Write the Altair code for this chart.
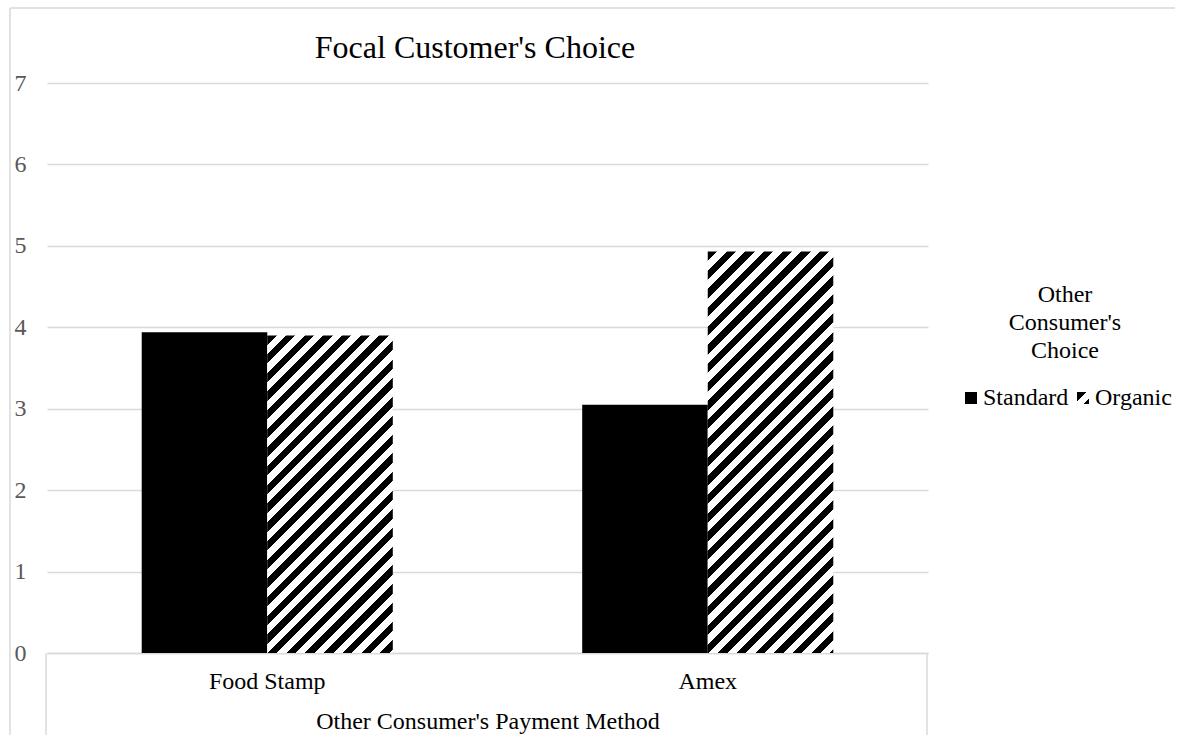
import json
import altair as alt
import pandas as pd

# ---- data ----
methods = ["Food Stamp", "Food Stamp", "Amex", "Amex"]
choices = ["Standard", "Organic", "Standard", "Organic"]
values = [3.94, 3.90, 3.05, 4.93]

method_order = ["Food Stamp", "Amex"]
choice_order = ["Standard", "Organic"]
y_ticks = [0, 1, 2, 3, 4, 5, 6, 7]

title_text = "Focal Customer's Choice"
x_title = "Other Consumer's Payment Method"
legend_title = ["Other", "Consumer's", "Choice"]

# ---- style ----
W, H = 881, 570
FONT = "Liberation Serif"
GRID = "#d9d9d9"
PAD_IN, PAD_OUT = 0.43, 0.215
PERIOD = 18.7  # horizontal period of the hatch, px

df = pd.DataFrame({"method": methods, "choice": choices, "value": values})
dummy = pd.DataFrame({"k": [0]})

step = W / (len(method_order) - PAD_IN + 2 * PAD_OUT)
bar_w = step * (1 - PAD_IN) / len(choice_order)


def stripe_gradient(w, h, period=PERIOD):
    """Linear gradient (bbox units) that draws 45 deg '/' stripes on a w x h box."""
    d = (w * w + h * h) / w
    n = d / period
    stops = []
    k = 0
    while k / n < 1:
        a = k / n
        b = min((k + 0.5) / n, 1.0)
        c = min((k + 1) / n, 1.0)
        stops += [
            {"offset": round(a, 5), "color": "black"},
            {"offset": round(b, 5), "color": "black"},
            {"offset": round(b, 5), "color": "white"},
            {"offset": round(c, 5), "color": "white"},
        ]
        k += 1
    return {"gradient": "linear", "x1": 0, "y1": 0, "x2": 1, "y2": h / w, "stops": stops}


def bar_height(v):
    return v * H / 7.0


grad_fs = stripe_gradient(bar_w, bar_height(values[1]))
grad_amex = stripe_gradient(bar_w, bar_height(values[3]))
legend_grad = stripe_gradient(12, 12)
legend_expr = json.dumps(legend_grad)

fill = alt.Fill(
    "choice:N",
    scale=alt.Scale(domain=choice_order, range=["black", {"expr": legend_expr}]),
    legend=alt.Legend(
        orient="none",
        legendX=912,
        legendY=200,
        direction="horizontal",
        columns=2,
        title=legend_title,
        titleFont=FONT,
        titleFontSize=24,
        titleFontWeight="normal",
        titleColor="black",
        titleAlign="center",
        titleAnchor="middle",
        titleLineHeight=28,
        titlePadding=23,
        labelFont=FONT,
        labelFontSize=24,
        labelColor="black",
        symbolType="square",
        symbolSize=144,
        symbolStrokeWidth=0,
        labelOffset=0,
        columnPadding=2,
    ),
    condition=[
        {"test": "datum.choice === 'Organic' && datum.method === 'Food Stamp'", "value": grad_fs},
        {"test": "datum.choice === 'Organic' && datum.method === 'Amex'", "value": grad_amex},
    ],
)

bars = alt.Chart(df).mark_bar().encode(
    x=alt.X(
        "method:N",
        scale=alt.Scale(domain=method_order, paddingInner=PAD_IN, paddingOuter=PAD_OUT),
        axis=alt.Axis(
            labelAngle=0,
            ticks=False,
            domain=True,
            domainColor=GRID,
            domainWidth=1.5,
            grid=False,
            labelFont=FONT,
            labelFontSize=24,
            labelColor="black",
            labelPadding=16,
            title=x_title,
            titleFont=FONT,
            titleFontSize=24,
            titleFontWeight="normal",
            titleColor="black",
            titlePadding=16,
        ),
    ),
    xOffset=alt.XOffset(
        "choice:N", scale=alt.Scale(domain=choice_order, paddingInner=0, paddingOuter=0)
    ),
    y=alt.Y(
        "value:Q",
        scale=alt.Scale(domain=[0, 7], nice=False),
        axis=alt.Axis(
            values=y_ticks,
            ticks=False,
            domain=False,
            grid=True,
            gridColor=GRID,
            gridWidth=1.5,
            labelColor="#595959",
            labelFont=FONT,
            labelFontSize=24,
            labelAlign="left",
            labelPadding=33,
            title=None,
        ),
    ),
    fill=fill,
)

rule_style = dict(color=GRID, strokeWidth=1.5)
frame_left = alt.Chart(dummy).mark_rule(**rule_style).encode(
    x=alt.value(-37), y=alt.value(-75), y2=alt.value(652)
)
frame_top = alt.Chart(dummy).mark_rule(**rule_style).encode(
    x=alt.value(-37), x2=alt.value(1128), y=alt.value(-75)
)
box_left = alt.Chart(dummy).mark_rule(**rule_style).encode(
    x=alt.value(-1), y=alt.value(H), y2=alt.value(652)
)
box_right = alt.Chart(dummy).mark_rule(**rule_style).encode(
    x=alt.value(W - 1), y=alt.value(H), y2=alt.value(652)
)
title = alt.Chart(dummy).mark_text(
    text=title_text, font=FONT, fontSize=32, align="center", baseline="alphabetic", color="black"
).encode(x=alt.value(428), y=alt.value(-25))

chart = (
    alt.layer(frame_left, frame_top, box_left, box_right, bars, title)
    .properties(width=W, height=H, padding={"left": 9, "top": 7, "right": 0, "bottom": 0})
    .configure_view(strokeWidth=0)
)

chart.save("out.html", embed_options={"renderer": "svg", "actions": False})
